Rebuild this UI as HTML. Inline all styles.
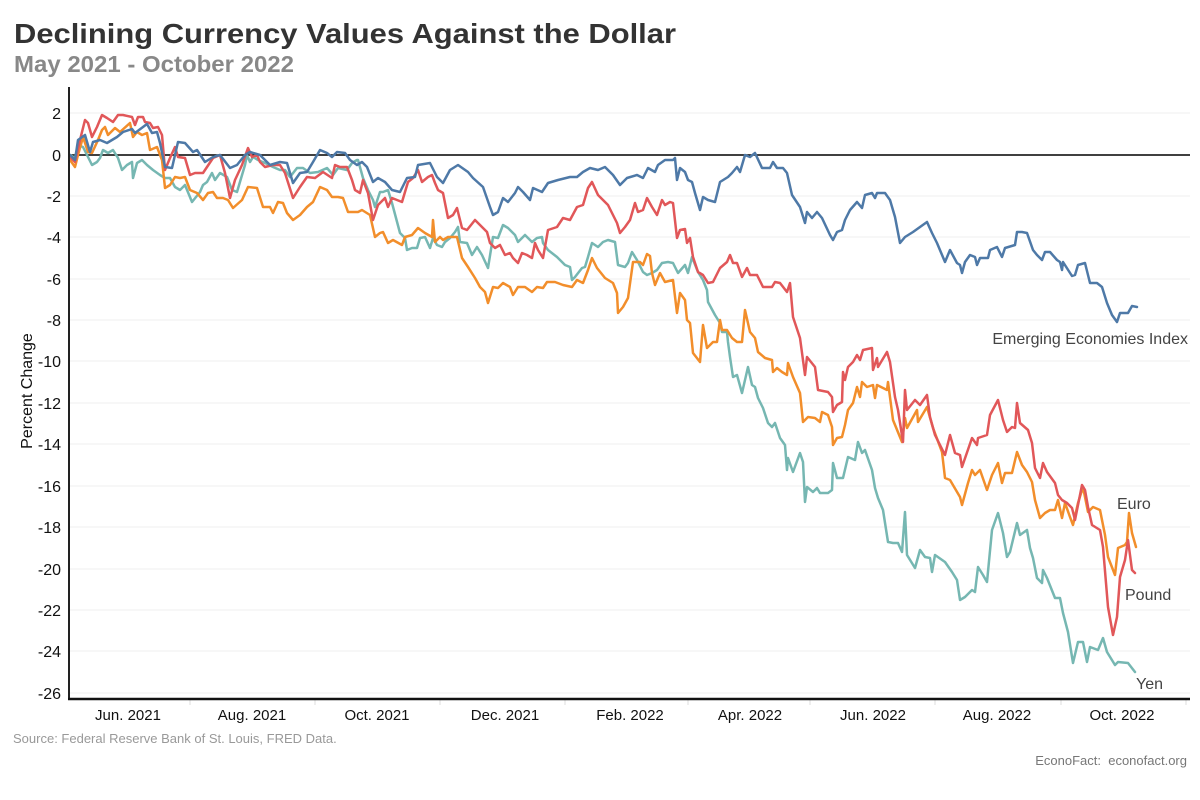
<!DOCTYPE html>
<html><head><meta charset="utf-8"><style>
html,body{margin:0;padding:0;background:#fff;}
svg{display:block;}
text{font-family:"Liberation Sans",Arial,sans-serif;}
</style></head><body>
<svg width="1200" height="800" viewBox="0 0 1200 800" xmlns="http://www.w3.org/2000/svg">
<rect width="1200" height="800" fill="#fff"/>
<text x="14" y="43" font-size="28" font-weight="bold" fill="#333" textLength="662" lengthAdjust="spacingAndGlyphs">Declining Currency Values Against the Dollar</text>
<text x="14" y="72" font-size="23" font-weight="bold" fill="#888" textLength="280" lengthAdjust="spacingAndGlyphs">May 2021 - October 2022</text>
<g stroke="#efefef" stroke-width="1">
<line x1="69" x2="1190" y1="113" y2="113"/>
<line x1="69" x2="1190" y1="196" y2="196"/>
<line x1="69" x2="1190" y1="237" y2="237"/>
<line x1="69" x2="1190" y1="279" y2="279"/>
<line x1="69" x2="1190" y1="320" y2="320"/>
<line x1="69" x2="1190" y1="361" y2="361"/>
<line x1="69" x2="1190" y1="403" y2="403"/>
<line x1="69" x2="1190" y1="444" y2="444"/>
<line x1="69" x2="1190" y1="486" y2="486"/>
<line x1="69" x2="1190" y1="527" y2="527"/>
<line x1="69" x2="1190" y1="569" y2="569"/>
<line x1="69" x2="1190" y1="610" y2="610"/>
<line x1="69" x2="1190" y1="651" y2="651"/>
<line x1="69" x2="1190" y1="693" y2="693"/>
</g>
<g font-size="16" fill="#111" text-anchor="end">
<text x="61" y="119">2</text>
<text x="61" y="161">0</text>
<text x="61" y="202">-2</text>
<text x="61" y="243">-4</text>
<text x="61" y="285">-6</text>
<text x="61" y="326">-8</text>
<text x="61" y="367">-10</text>
<text x="61" y="409">-12</text>
<text x="61" y="450">-14</text>
<text x="61" y="492">-16</text>
<text x="61" y="533">-18</text>
<text x="61" y="575">-20</text>
<text x="61" y="616">-22</text>
<text x="61" y="657">-24</text>
<text x="61" y="699">-26</text>
</g>
<text transform="translate(32,391) rotate(-90)" font-size="16" fill="#111" text-anchor="middle">Percent Change</text>
<g stroke="#ddd" stroke-width="1">
<line x1="190" x2="190" y1="700" y2="705"/>
<line x1="315" x2="315" y1="700" y2="705"/>
<line x1="440" x2="440" y1="700" y2="705"/>
<line x1="565" x2="565" y1="700" y2="705"/>
<line x1="688" x2="688" y1="700" y2="705"/>
<line x1="810" x2="810" y1="700" y2="705"/>
<line x1="935" x2="935" y1="700" y2="705"/>
<line x1="1061" x2="1061" y1="700" y2="705"/>
<line x1="1186" x2="1186" y1="700" y2="705"/>
</g>
<g font-size="15" fill="#111" text-anchor="middle">
<text x="128" y="720">Jun. 2021</text>
<text x="252" y="720">Aug. 2021</text>
<text x="377" y="720">Oct. 2021</text>
<text x="505" y="720">Dec. 2021</text>
<text x="630" y="720">Feb. 2022</text>
<text x="750" y="720">Apr. 2022</text>
<text x="873" y="720">Jun. 2022</text>
<text x="997" y="720">Aug. 2022</text>
<text x="1122" y="720">Oct. 2022</text>
</g>
<line x1="69" x2="1190" y1="155" y2="155" stroke="#000" stroke-width="1.6"/>
<g fill="none" stroke-width="2.5" stroke-linejoin="round" stroke-linecap="round">
<polyline stroke="#76b7b2" points="70,155 75,158 78,145 83,147 88,157 92,165 97,162 100,158 103,150 108,153 113,150 118,158 122,170 127,165 132,162 133,178 137,163 142,160 147,165 153,170 160,175 165,178 170,178 175,187 180,190 185,185 192,202 200,192 203,185 207,182 212,173 215,180 220,173 227,177 232,190 237,192 245,165 247,155 250,162 253,157 258,160 265,163 273,167 280,170 285,170 290,177 297,168 303,168 310,173 318,172 327,168 333,175 338,168 347,170 352,163 357,160 358,160 363,178 368,190 373,200 375,207 380,192 383,192 388,190 392,203 400,233 405,238 407,250 412,248 417,248 420,238 425,237 430,248 433,238 437,245 442,247 445,242 450,238 455,232 458,227 460,242 467,243 472,255 477,247 482,255 488,268 493,237 498,238 503,225 508,228 515,235 518,242 525,235 532,242 537,238 542,237 543,243 548,250 557,257 565,265 570,267 572,280 575,277 582,268 585,267 588,257 592,243 598,247 603,242 608,240 615,242 618,265 625,267 628,263 632,252 637,260 643,272 647,275 652,273 657,270 662,263 668,262 673,263 678,273 685,265 688,273 692,257 698,272 703,280 707,290 708,302 715,315 720,323 722,332 727,332 728,342 730,357 733,377 737,375 742,393 745,380 748,367 752,385 755,387 758,398 763,408 768,423 772,427 775,423 780,438 785,445 787,470 788,458 793,472 800,453 803,462 805,502 807,487 813,492 817,488 820,493 828,493 832,490 833,463 837,478 843,478 848,457 855,460 858,442 862,453 865,450 872,470 875,488 878,498 883,510 888,542 893,543 898,543 902,552 905,512 907,555 915,568 920,550 925,557 930,558 932,572 935,555 945,562 952,572 957,580 960,600 965,597 972,590 975,592 978,567 983,575 987,582 992,530 998,513 1003,533 1007,557 1010,552 1017,523 1020,535 1027,530 1030,548 1033,558 1037,578 1042,583 1043,570 1047,578 1055,598 1060,598 1063,613 1068,632 1073,663 1078,642 1083,642 1087,662 1090,647 1098,650 1103,638 1107,652 1115,665 1118,662 1128,663 1135,672"/>
<polyline stroke="#f28e2b" points="70,160 75,167 78,155 83,137 88,152 92,153 98,140 102,130 105,127 108,135 115,128 120,132 130,123 133,137 137,132 142,135 147,133 150,150 157,147 162,160 165,188 170,185 175,177 180,178 185,177 190,190 197,193 203,200 208,193 213,192 217,198 223,198 228,200 233,208 242,200 248,187 257,188 263,207 270,207 273,213 278,202 283,203 287,213 293,220 300,215 307,207 313,202 320,187 327,190 332,197 338,197 343,198 348,212 358,212 362,210 370,215 375,237 380,233 383,232 388,243 393,240 402,245 405,237 412,235 418,228 425,233 432,237 433,220 435,242 440,237 443,240 448,237 457,237 462,258 468,267 475,278 480,287 485,292 488,303 493,287 498,288 503,283 510,287 513,295 518,287 525,287 532,292 537,287 543,288 547,282 555,282 563,285 572,287 577,280 583,283 588,270 592,258 597,268 605,278 613,283 617,293 618,313 623,307 628,298 633,262 640,262 643,265 647,254 650,256 652,273 655,285 660,273 665,282 673,280 677,313 680,293 685,300 687,320 690,323 693,353 700,362 703,325 707,348 713,342 717,342 720,320 722,330 727,330 732,338 737,342 742,342 745,310 750,332 755,338 758,352 765,358 772,360 773,372 777,368 782,372 787,375 788,363 793,377 800,393 803,422 808,417 815,418 820,422 822,412 828,415 832,427 833,445 837,438 842,437 845,425 848,410 853,403 857,387 860,397 862,382 867,387 873,385 875,398 877,385 887,390 888,382 893,420 902,442 905,418 907,428 917,410 918,422 927,407 933,428 942,452 945,478 950,480 960,497 962,505 968,483 972,470 975,475 980,470 987,490 992,475 998,463 1002,483 1005,473 1012,473 1017,452 1022,465 1027,472 1032,482 1035,500 1040,518 1045,513 1050,510 1055,510 1058,500 1062,518 1065,503 1070,517 1073,525 1078,503 1083,487 1088,512 1093,507 1100,510 1105,535 1108,557 1115,575 1118,548 1125,545 1127,542 1129,513 1132,533 1136,547"/>
<polyline stroke="#e15759" points="70,157 75,162 80,140 85,120 88,123 92,137 97,127 102,115 107,118 113,122 118,115 123,115 132,117 135,125 138,117 143,117 145,122 150,123 153,128 158,127 162,135 165,170 170,158 175,147 178,157 185,158 190,175 195,173 203,173 207,167 213,158 220,155 225,173 230,198 235,180 242,165 248,148 252,157 257,155 260,162 265,167 273,165 280,165 285,173 293,198 300,187 307,177 315,178 323,172 332,178 335,165 340,167 347,167 352,180 355,190 360,193 363,180 368,193 373,220 378,205 385,198 388,207 392,198 402,202 408,182 413,178 418,170 422,182 428,177 432,175 435,183 438,190 443,193 448,218 453,215 457,208 462,228 467,230 475,220 480,225 487,232 490,243 495,248 500,245 505,255 510,253 513,258 518,263 522,253 527,255 532,258 535,243 538,250 543,258 548,230 557,227 563,218 570,220 577,207 583,205 588,188 592,182 598,195 603,200 608,205 613,215 617,223 620,233 625,227 630,220 635,203 638,212 643,210 647,198 652,207 657,215 662,200 665,205 670,202 673,203 677,238 680,230 685,229 687,243 690,238 693,257 698,272 703,275 708,283 713,282 720,268 727,262 730,255 733,263 737,263 742,277 747,268 750,275 757,275 763,287 772,287 775,282 780,283 787,292 790,283 793,317 800,338 805,375 807,357 815,367 818,390 828,392 832,397 833,412 837,405 842,402 843,372 845,380 848,367 853,362 857,355 860,360 863,350 872,348 873,370 877,358 878,367 887,352 890,362 895,397 898,410 903,442 905,390 907,410 915,400 920,405 927,395 930,417 935,435 945,455 950,435 955,453 960,455 962,467 972,438 977,445 978,438 987,435 990,415 998,400 1003,420 1007,432 1012,427 1015,428 1017,403 1020,423 1028,430 1032,443 1035,468 1040,478 1043,463 1047,472 1055,483 1058,495 1062,500 1067,503 1072,508 1075,520 1082,485 1085,490 1088,507 1092,525 1100,530 1103,547 1108,607 1113,635 1117,617 1120,577 1125,560 1128,540 1132,570 1135,573"/>
<polyline stroke="#4e79a7" points="70,155 75,160 78,140 85,135 90,152 93,142 100,140 107,143 117,137 123,132 132,129 135,133 147,124 152,133 157,132 160,143 165,167 172,168 178,142 185,143 193,152 197,150 205,162 213,157 220,155 230,168 237,165 245,155 250,152 260,155 270,165 280,162 287,163 293,183 300,173 307,172 313,162 320,150 327,153 332,157 337,152 345,153 350,160 357,165 362,162 367,167 373,182 378,178 385,182 392,190 400,192 407,178 415,177 418,165 430,163 437,177 443,183 450,170 458,165 468,172 473,178 483,187 490,207 493,215 498,212 503,198 508,202 515,193 518,187 523,192 530,200 533,188 542,192 548,183 558,180 570,177 577,177 583,172 590,168 598,170 605,167 613,175 620,185 627,178 637,175 643,178 648,168 655,172 658,165 665,160 673,160 675,158 677,180 680,168 685,172 688,180 692,182 695,193 700,210 703,197 708,200 715,202 720,182 728,177 732,173 737,167 740,172 745,155 750,157 755,153 762,168 770,168 773,162 777,168 783,168 787,173 792,195 800,207 805,223 807,212 812,218 817,212 822,218 830,235 833,240 837,232 842,230 845,220 850,210 857,202 862,208 865,195 872,193 875,198 877,193 885,193 890,200 895,217 900,243 905,237 913,232 920,227 927,222 932,233 937,243 945,262 950,250 957,263 960,265 962,273 965,262 970,255 975,257 977,265 980,258 988,258 990,250 997,247 1002,257 1005,248 1015,245 1017,232 1022,232 1027,233 1033,250 1037,255 1042,260 1045,252 1050,252 1057,260 1060,262 1062,270 1063,262 1072,276 1075,275 1078,265 1085,263 1088,275 1090,283 1097,283 1102,287 1107,303 1112,315 1117,322 1120,313 1128,313 1132,306 1137,307"/>
</g>
<line x1="69" x2="69" y1="87" y2="700" stroke="#222" stroke-width="2"/>
<line x1="68" x2="1190" y1="699" y2="699" stroke="#111" stroke-width="2.4"/>
<g font-size="16" fill="#444">
<text x="1188" y="344" text-anchor="end">Emerging Economies Index</text>
<text x="1117" y="509">Euro</text>
<text x="1125" y="600">Pound</text>
<text x="1136" y="689">Yen</text>
</g>
<text x="13" y="743" font-size="13" fill="#999">Source: Federal Reserve Bank of St. Louis, FRED Data.</text>
<text x="1187" y="765" font-size="13" fill="#777" text-anchor="end" xml:space="preserve">EconoFact:  econofact.org</text>
</svg>
</body></html>
